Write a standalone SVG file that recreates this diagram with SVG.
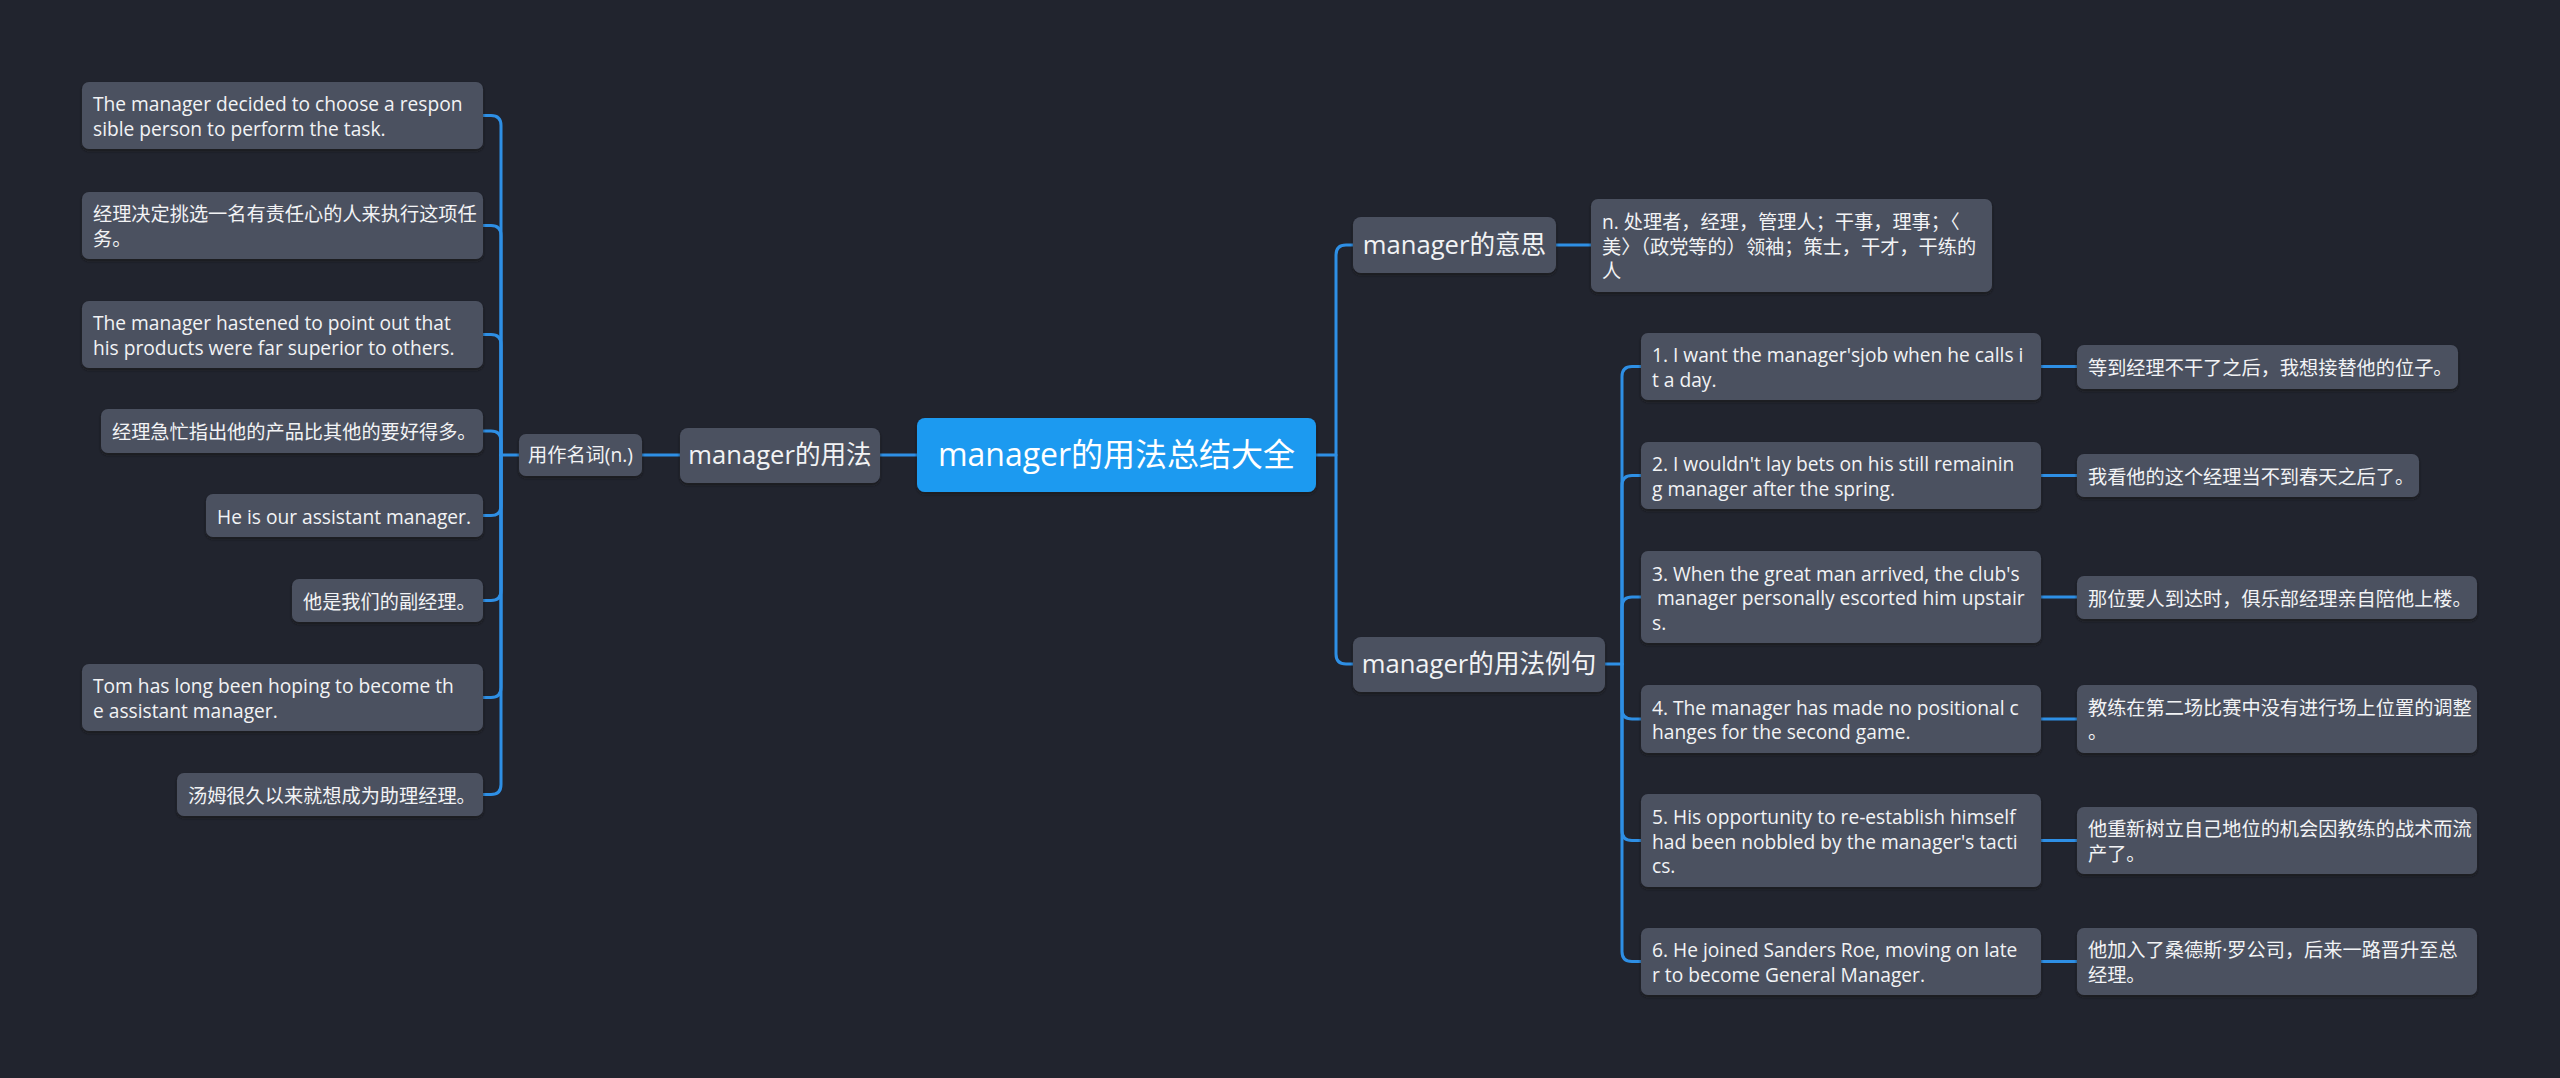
<svg xmlns="http://www.w3.org/2000/svg" width="2560" height="1078" viewBox="0 0 2560 1078">
<defs>
<filter id="sh" x="-5%" y="-10%" width="110%" height="130%">
<feDropShadow dx="0" dy="2" stdDeviation="1.5" flood-color="#14161d" flood-opacity="0.8"/>
</filter>
<style>
.bg{fill:#21242e}
.n{fill:#4b5161;filter:url(#sh)}
.r{fill:#1e9af0;filter:url(#sh)}
.t{font-family:"Open Sans","Noto Sans CJK SC",sans-serif;fill:#f2f3f5;font-size:19.2px}
.m{font-size:25.6px;text-anchor:middle}
.rt{font-size:32px;text-anchor:middle;fill:#ffffff}
.c{fill:none;stroke:#2e8fe5;stroke-width:3;stroke-linecap:round;stroke-linejoin:round}
</style>
</defs>
<rect class="bg" x="0" y="0" width="2560" height="1078"/>
<g id="connectors">
<path class="c" d="M917 455 H880"/>
<path class="c" d="M680 455 H642"/>
<path class="c" d="M519 455 H501 V125.5 Q501 115.5 491 115.5 H483"/>
<path class="c" d="M501 455 V235.5 Q501 225.5 491 225.5 H483"/>
<path class="c" d="M501 455 V344.5 Q501 334.5 491 334.5 H483"/>
<path class="c" d="M501 455 V441 Q501 431 491 431 H483"/>
<path class="c" d="M501 455 V505.5 Q501 515.5 491 515.5 H483"/>
<path class="c" d="M501 455 V590.5 Q501 600.5 491 600.5 H483"/>
<path class="c" d="M501 455 V687.5 Q501 697.5 491 697.5 H483"/>
<path class="c" d="M501 455 V784.5 Q501 794.5 491 794.5 H483"/>
<path class="c" d="M1316 455 H1336 V255 Q1336 245 1346 245 H1353"/>
<path class="c" d="M1336 455 V654 Q1336 664 1346 664 H1353"/>
<path class="c" d="M1556 245 H1591"/>
<path class="c" d="M1605 664 H1622 V376.5 Q1622 366.5 1632 366.5 H1641"/>
<path class="c" d="M1622 664 V485.5 Q1622 475.5 1632 475.5 H1641"/>
<path class="c" d="M1622 664 V607 Q1622 597 1632 597 H1641"/>
<path class="c" d="M1622 664 V709 Q1622 719 1632 719 H1641"/>
<path class="c" d="M1622 664 V830.5 Q1622 840.5 1632 840.5 H1641"/>
<path class="c" d="M1622 664 V951.5 Q1622 961.5 1632 961.5 H1641"/>
<path class="c" d="M2041 366.5 H2077"/>
<path class="c" d="M2041 475.5 H2077"/>
<path class="c" d="M2041 597 H2077"/>
<path class="c" d="M2041 719 H2077"/>
<path class="c" d="M2041 840.5 H2077"/>
<path class="c" d="M2041 961.5 H2077"/>
</g>
<g id="root">
<rect class="r" x="917" y="418" width="399" height="74" rx="8"/>
<text class="t rt" x="1116.5" y="466">manager的用法总结大全</text>
</g>
<g id="usage">
<rect class="n" x="680" y="428" width="200" height="55" rx="8"/>
<text class="t m" x="780" y="464">manager的用法</text>
</g>
<g id="noun">
<rect class="n" x="519" y="434" width="123" height="42" rx="7"/>
<text class="t" x="580.5" y="462" text-anchor="middle">用作名词(n.)</text>
</g>
<g id="l1">
<rect class="n" x="82" y="82" width="401" height="67" rx="7"/>
<text class="t" x="93" y="111.25">The manager decided to choose a respon</text>
<text class="t" x="93" y="135.75">sible person to perform the task.</text>
</g>
<g id="l2">
<rect class="n" x="82" y="192" width="401" height="67" rx="7"/>
<text class="t" x="93" y="221.25">经理决定挑选一名有责任心的人来执行这项任</text>
<text class="t" x="93" y="245.75">务。</text>
</g>
<g id="l3">
<rect class="n" x="82" y="301" width="401" height="67" rx="7"/>
<text class="t" x="93" y="330.25">The manager hastened to point out that</text>
<text class="t" x="93" y="354.75">his products were far superior to others.</text>
</g>
<g id="l4">
<rect class="n" x="101" y="409" width="382" height="44" rx="7"/>
<text class="t" x="112" y="439">经理急忙指出他的产品比其他的要好得多。</text>
</g>
<g id="l5">
<rect class="n" x="206" y="494" width="277" height="43" rx="7"/>
<text class="t" x="217" y="523.5">He is our assistant manager.</text>
</g>
<g id="l6">
<rect class="n" x="292" y="579" width="191" height="43" rx="7"/>
<text class="t" x="303" y="608.5">他是我们的副经理。</text>
</g>
<g id="l7">
<rect class="n" x="82" y="664" width="401" height="67" rx="7"/>
<text class="t" x="93" y="693.25">Tom has long been hoping to become th</text>
<text class="t" x="93" y="717.75">e assistant manager.</text>
</g>
<g id="l8">
<rect class="n" x="177" y="773" width="306" height="43" rx="7"/>
<text class="t" x="188" y="802.5">汤姆很久以来就想成为助理经理。</text>
</g>
<g id="meaning">
<rect class="n" x="1353" y="217" width="203" height="56" rx="8"/>
<text class="t m" x="1454.5" y="254">manager的意思</text>
</g>
<g id="meaning-leaf">
<rect class="n" x="1591" y="199" width="401" height="93" rx="7"/>
<text class="t" x="1602" y="229">n. 处理者，经理，管理人；干事，理事；〈</text>
<text class="t" x="1602" y="253.5">美〉（政党等的）领袖；策士，干才，干练的</text>
<text class="t" x="1602" y="278">人</text>
</g>
<g id="examples">
<rect class="n" x="1353" y="637" width="252" height="55" rx="8"/>
<text class="t m" x="1479" y="673">manager的用法例句</text>
</g>
<g id="e1">
<rect class="n" x="1641" y="333" width="400" height="67" rx="7"/>
<text class="t" x="1652" y="362.25">1. I want the manager'sjob when he calls i</text>
<text class="t" x="1652" y="386.75">t a day.</text>
</g>
<g id="e2">
<rect class="n" x="1641" y="442" width="400" height="67" rx="7"/>
<text class="t" x="1652" y="471.25">2. I wouldn't lay bets on his still remainin</text>
<text class="t" x="1652" y="495.75">g manager after the spring.</text>
</g>
<g id="e3">
<rect class="n" x="1641" y="551" width="400" height="92" rx="7"/>
<text class="t" x="1652" y="580.5">3. When the great man arrived, the club's</text>
<text class="t" x="1652" y="605" xml:space="preserve"> manager personally escorted him upstair</text>
<text class="t" x="1652" y="629.5">s.</text>
</g>
<g id="e4">
<rect class="n" x="1641" y="685" width="400" height="68" rx="7"/>
<text class="t" x="1652" y="714.75">4. The manager has made no positional c</text>
<text class="t" x="1652" y="739.25">hanges for the second game.</text>
</g>
<g id="e5">
<rect class="n" x="1641" y="794" width="400" height="93" rx="7"/>
<text class="t" x="1652" y="824">5. His opportunity to re-establish himself</text>
<text class="t" x="1652" y="848.5">had been nobbled by the manager's tacti</text>
<text class="t" x="1652" y="873">cs.</text>
</g>
<g id="e6">
<rect class="n" x="1641" y="928" width="400" height="67" rx="7"/>
<text class="t" x="1652" y="957.25">6. He joined Sanders Roe, moving on late</text>
<text class="t" x="1652" y="981.75">r to become General Manager.</text>
</g>
<g id="t1">
<rect class="n" x="2077" y="345" width="381" height="44" rx="7"/>
<text class="t" x="2088" y="375">等到经理不干了之后，我想接替他的位子。</text>
</g>
<g id="t2">
<rect class="n" x="2077" y="454" width="342" height="43" rx="7"/>
<text class="t" x="2088" y="483.5">我看他的这个经理当不到春天之后了。</text>
</g>
<g id="t3">
<rect class="n" x="2077" y="576" width="400" height="43" rx="7"/>
<text class="t" x="2088" y="605.5">那位要人到达时，俱乐部经理亲自陪他上楼。</text>
</g>
<g id="t4">
<rect class="n" x="2077" y="685" width="400" height="68" rx="7"/>
<text class="t" x="2088" y="714.75">教练在第二场比赛中没有进行场上位置的调整</text>
<text class="t" x="2088" y="739.25">。</text>
</g>
<g id="t5">
<rect class="n" x="2077" y="807" width="400" height="67" rx="7"/>
<text class="t" x="2088" y="836.25">他重新树立自己地位的机会因教练的战术而流</text>
<text class="t" x="2088" y="860.75">产了。</text>
</g>
<g id="t6">
<rect class="n" x="2077" y="928" width="400" height="67" rx="7"/>
<text class="t" x="2088" y="957.25">他加入了桑德斯·罗公司，后来一路晋升至总</text>
<text class="t" x="2088" y="981.75">经理。</text>
</g>
</svg>
